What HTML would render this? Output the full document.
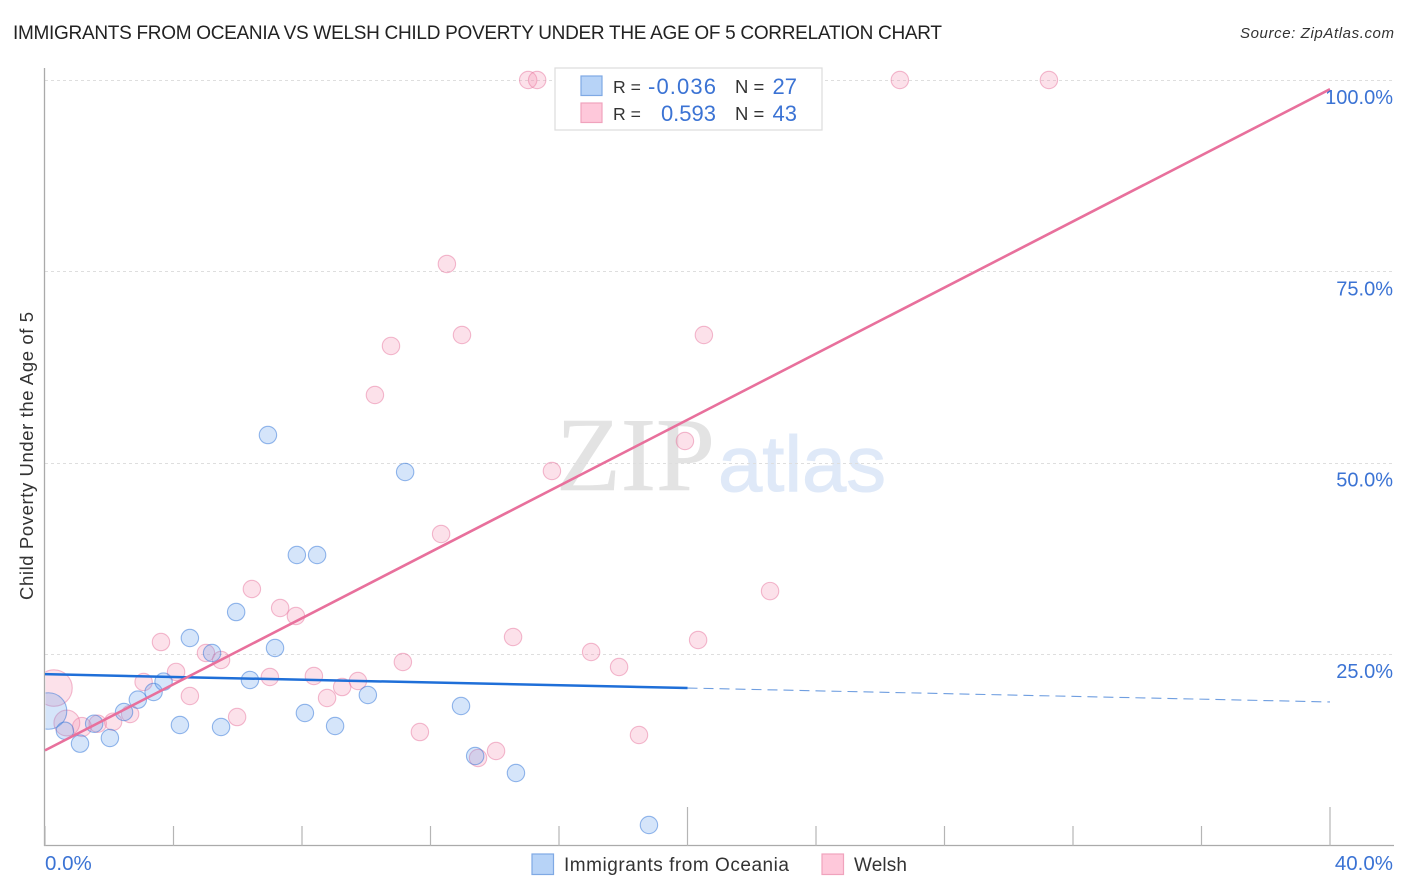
<!DOCTYPE html>
<html>
<head>
<meta charset="utf-8">
<title>Immigrants from Oceania vs Welsh Child Poverty Under the Age of 5 Correlation Chart</title>
<style>
html,body{margin:0;padding:0;background:#fff;width:1406px;height:892px;overflow:hidden}
svg{display:block;font-family:"Liberation Sans",sans-serif}
</style>
</head>
<body>
<svg id="chart" xmlns="http://www.w3.org/2000/svg" width="1406" height="892" viewBox="0 0 1406 892">
  <defs>
    <clipPath id="plot-clip"><rect x="45.5" y="60" width="1349" height="786"/></clipPath>
  </defs>
  <text x="13" y="39" font-size="19" fill="#222" textLength="929" lengthAdjust="spacing">IMMIGRANTS FROM OCEANIA VS WELSH CHILD POVERTY UNDER THE AGE OF 5 CORRELATION CHART</text>
  <text x="1394" y="38" font-size="15" font-style="italic" fill="#333" text-anchor="end" textLength="154" lengthAdjust="spacing">Source: ZipAtlas.com</text>
  <text transform="translate(33,456) rotate(-90)" font-size="18.5" fill="#333" text-anchor="middle" textLength="288" lengthAdjust="spacing">Child Poverty Under the Age of 5</text>

  <g>
    <text x="556" y="490" font-family="'Liberation Serif',serif" font-size="105" fill="#e3e3e3" stroke="#e3e3e3" stroke-width="0.6" textLength="159" lengthAdjust="spacingAndGlyphs">ZIP</text>
    <text x="718" y="491" font-size="79" fill="#dfe9f8" stroke="#dfe9f8" stroke-width="1" textLength="168" lengthAdjust="spacingAndGlyphs">atlas</text>
  </g>

  <g id="grid"></g>
  <g id="axes"></g>
  <g id="pink-points" clip-path="url(#plot-clip)"></g>
  <g id="blue-points" clip-path="url(#plot-clip)"></g>
  <g id="trends"></g>
  <g id="tick-labels"></g>

  <g>
    <rect x="555" y="68" width="267" height="62" fill="#fff" stroke="#dcdcdc" stroke-width="1.2"/>
    <rect x="581" y="76" width="21" height="19.5" fill="#b7d3f7" stroke="#7fa9e4" stroke-width="1.2"/>
    <rect x="581" y="103" width="21" height="19.5" fill="#fec8da" stroke="#f0a3bd" stroke-width="1.2"/>
    <text x="613" y="93" font-size="17.6" fill="#333">R =</text>
    <text x="648" y="94" font-size="22" fill="#3b73d4" textLength="68" lengthAdjust="spacing">-0.036</text>
    <text x="735" y="93" font-size="18.5" fill="#333">N =</text>
    <text x="797" y="94" font-size="22" fill="#3b73d4" text-anchor="end">27</text>
    <text x="613" y="120" font-size="17.6" fill="#333">R =</text>
    <text x="716" y="121" font-size="22" fill="#3b73d4" text-anchor="end">0.593</text>
    <text x="735" y="120" font-size="18.5" fill="#333">N =</text>
    <text x="797" y="121" font-size="22" fill="#3b73d4" text-anchor="end">43</text>
  </g>

  <g>
    <rect x="532" y="854" width="21.5" height="20.5" fill="#b7d3f7" stroke="#7fa9e4" stroke-width="1.2"/>
    <text x="564" y="871" font-size="19" fill="#333" textLength="225" lengthAdjust="spacing">Immigrants from Oceania</text>
    <rect x="822" y="854" width="21.5" height="20.5" fill="#fec8da" stroke="#f0a3bd" stroke-width="1.2"/>
    <text x="854" y="871" font-size="19" fill="#333" textLength="53" lengthAdjust="spacing">Welsh</text>
  </g>
</svg>

<script>
const yTickValues = [25, 50, 75, 100];
const yTickLabels = ['25.0%', '50.0%', '75.0%', '100.0%'];
const xTickValues = [0, 4, 8, 12, 16, 20, 24, 28, 32, 36, 40];
const xMajorTicks = [20, 40];
const xEndLabels = ['0.0%', '40.0%'];

const oceaniaX = [0.11,0.62,1.09,1.53,2.02,2.46,2.89,3.38,3.69,4.20,4.51,5.20,5.48,5.95,6.38,6.94,7.16,7.84,8.09,8.47,9.03,10.05,11.21,12.95,13.39,14.66,18.80];
const oceaniaY = [17.55,14.97,13.28,15.89,14.02,17.42,19.03,20.03,21.38,15.72,27.09,25.13,15.46,30.48,21.60,53.61,25.78,37.93,17.29,37.93,15.59,19.64,48.78,18.20,11.67,9.45,2.65];
const oceaniaWeight = [4.4,1,1,1,1,1,1,1,1,1,1,1,1,1,1,1,1,1,1,1,1,1,1,1,1,1,1];

const welshX = [15.04,15.32,26.61,31.25,12.51,12.98,20.51,10.77,10.27,19.92,15.78,12.33,22.57,6.44,7.32,7.81,3.61,14.57,20.33,17.00,17.87,11.14,5.01,5.48,4.08,7.00,8.37,3.07,9.74,9.25,8.78,4.51,5.98,11.67,18.49,14.04,13.48,2.65,2.12,1.64,1.15,0.68,0.28];
const welshY = [100,100,100,100,75.96,66.68,66.68,65.25,58.84,52.83,48.91,40.68,33.22,33.49,31.01,29.96,26.56,27.22,26.83,25.26,23.30,23.95,25.13,24.21,22.65,21.99,22.12,21.34,21.47,20.68,19.25,19.51,16.76,14.80,14.41,12.32,11.41,17.16,16.15,15.89,15.46,15.98,20.55];
const welshWeight = [1,1,1,1,1,1,1,1,1,1,1,1,1,1,1,1,1,1,1,1,1,1,1,1,1,1,1,1,1,1,1,1,1,1,1,1,1,1,1,1,1.2,2.2,4.4];

const oceaniaTrendX = [0, 20, 40];
const oceaniaTrendY = [22.36, 20.55, 18.73];
const welshTrendX = [0, 40];
const welshTrendY = [12.4, 98.8];

const NS = 'http://www.w3.org/2000/svg';
function xScale(v) { return 45 + v * 32.125; }
function yScale(v) { return 845.3 - v * 7.653; }
function radius(w) { return 8.7 * Math.sqrt(w); }

function make(tag, attrs, parent) {
  const el = document.createElementNS(NS, tag);
  for (const k in attrs) el.setAttribute(k, attrs[k]);
  parent.appendChild(el);
  return el;
}

const grid = document.getElementById('grid');
yTickValues.forEach(function (v) {
  const el = make('line', { x1: 45, x2: 1394, y1: Math.round(yScale(v)) + 0.5, y2: Math.round(yScale(v)) + 0.5, stroke: '#dedede', 'stroke-width': 0.9, 'stroke-dasharray': '3 3' }, grid);
  
  
});

const axes = document.getElementById('axes');
const yAxis = make('line', { x1: 44.5, x2: 44.5, y1: 68, y2: 846, stroke: '#aaa', 'stroke-width': 1.3 }, axes);


const xAxis = make('line', { x1: 44, x2: 1394, y1: 845.5, y2: 845.5, stroke: '#aaa', 'stroke-width': 1.3 }, axes);


xTickValues.forEach(function (v) {
  const top = xMajorTicks.indexOf(v) >= 0 ? 807 : 826;
  const el = make('line', { x1: xScale(v), x2: xScale(v), y1: top, y2: 846, stroke: '#b5b5b5', 'stroke-width': 1.2 }, axes);
  
  
});

function drawPoints(groupId, xs, ys, ws, fill, fillOpacity, stroke, name) {
  const g = document.getElementById(groupId);
  xs.forEach(function (xv, i) {
    const c = make('circle', { cx: xScale(xv), cy: yScale(ys[i]), r: radius(ws[i]), fill: fill, 'fill-opacity': fillOpacity, stroke: stroke, 'stroke-opacity': 0.5, 'stroke-width': 1.1 }, g);
    
    
  });
}
drawPoints('pink-points', welshX, welshY, welshWeight, '#f48fb1', 0.27, '#e8789f', 'welsh-point');
drawPoints('blue-points', oceaniaX, oceaniaY, oceaniaWeight, '#64a0ee', 0.27, '#2f74d8', 'oceania-point');

const trends = document.getElementById('trends');
const blueSolid = make('line', { x1: xScale(oceaniaTrendX[0]), y1: yScale(oceaniaTrendY[0]), x2: xScale(oceaniaTrendX[1]), y2: yScale(oceaniaTrendY[1]), stroke: '#1f6fd8', 'stroke-width': 2.5 }, trends);


const blueDash = make('line', { x1: xScale(oceaniaTrendX[1]), y1: yScale(oceaniaTrendY[1]), x2: xScale(oceaniaTrendX[2]), y2: yScale(oceaniaTrendY[2]), stroke: '#6f9ee0', 'stroke-width': 1.1, 'stroke-dasharray': '10 6' }, trends);


const pinkLine = make('line', { x1: xScale(welshTrendX[0]), y1: yScale(welshTrendY[0]), x2: xScale(welshTrendX[1]), y2: yScale(welshTrendY[1]), stroke: '#e8709c', 'stroke-width': 2.6 }, trends);



const labels = document.getElementById('tick-labels');
yTickValues.forEach(function (v, i) {
  const t = make('text', { x: 1393, y: yScale(v) + 24, 'font-size': 20, fill: '#3b73d4', 'text-anchor': 'end' }, labels);
  t.textContent = yTickLabels[i];
  
  
});
const xLeft = make('text', { x: 45, y: 870, 'font-size': 20.5, fill: '#3b73d4' }, labels);
xLeft.textContent = xEndLabels[0];


const xRight = make('text', { x: 1393, y: 870, 'font-size': 20.5, fill: '#3b73d4', 'text-anchor': 'end' }, labels);
xRight.textContent = xEndLabels[1];


</script>
</body>
</html>
